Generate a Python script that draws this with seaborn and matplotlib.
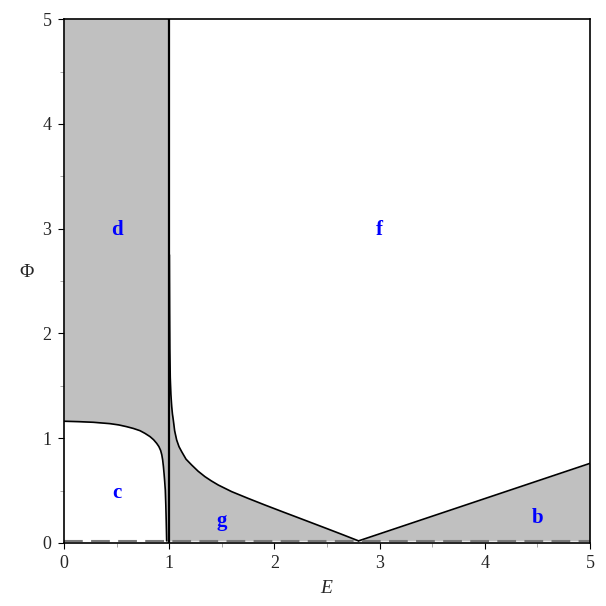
import numpy as np
import pandas as pd
import matplotlib
matplotlib.use("Agg")
import matplotlib.pyplot as plt
from matplotlib import font_manager
import seaborn as sns

# --- Courbes (E, Phi) ---
# frontière supérieure de la région c
c_E = [0.0, 0.14, 0.279, 0.437, 0.52, 0.596, 0.66, 0.722, 0.77, 0.818, 0.852, 0.881, 0.902, 0.919,
       0.930, 0.938, 0.945, 0.951, 0.957, 0.963, 0.968, 0.972, 0.976]
c_Phi = [1.162, 1.158, 1.152, 1.139, 1.127, 1.11, 1.093, 1.072, 1.046, 1.015, 0.985, 0.951, 0.92, 0.882,
         0.84, 0.792, 0.73, 0.665, 0.59, 0.506, 0.36, 0.2, 0.02]

# frontière supérieure de la région g
g_E = [1.002, 1.004, 1.006, 1.01, 1.016, 1.024, 1.031, 1.039, 1.052, 1.071, 1.093, 1.119, 1.16,
       1.214, 1.275, 1.340, 1.40, 1.467, 1.594, 1.752, 1.911, 2.085, 2.18, 2.34, 2.497, 2.65, 2.80]
g_Phi = [2.75, 2.2, 1.85, 1.58, 1.42, 1.30, 1.23, 1.174, 1.07, 0.983, 0.92, 0.871, 0.80,
         0.744, 0.685, 0.633, 0.593, 0.553, 0.490, 0.425, 0.362, 0.295, 0.259, 0.198, 0.138, 0.079, 0.02]

# frontière de la région b
b_E = [2.80, 5.0]
b_Phi = [0.02, 0.76]

phi_low = 0.02
phi_max = 5.0

labels = ["d", "f", "c", "g", "b"]
label_E = [0.5, 3.0, 0.5, 1.5, 4.5]
label_Phi = [2.99, 2.99, 0.48, 0.21, 0.24]

sns.set_theme(style="white")
installed = {f.name for f in font_manager.fontManager.ttflist}
serif = [f for f in ["Liberation Serif", "Times New Roman", "Nimbus Roman", "DejaVu Serif"]
         if f in installed]
plt.rcParams["font.family"] = serif + ["DejaVu Sans"]
plt.rcParams["mathtext.fontset"] = "custom"
plt.rcParams["mathtext.it"] = serif[0] + ":italic"
plt.rcParams["mathtext.rm"] = serif[0]

fig = plt.figure(figsize=(6.06, 6.06), dpi=100)
ax = fig.add_axes([0.1056, 0.104, 0.868, 0.8644])

grey = "#c0c0c0"
# région d : au-dessus de la courbe c jusqu'à E = 1
ax.fill_between(c_E + [1.0], c_Phi + [0.0], phi_max, color=grey, lw=0)
ax.fill_between([c_E[-1], 1.0], 0, phi_max, color=grey, lw=0)
# région g
ax.fill_between([1.0] + g_E, phi_low, [g_Phi[0]] + g_Phi, color=grey, lw=0)
# région b
ax.fill_between(b_E, phi_low, b_Phi, color=grey, lw=0)

curves = pd.concat([
    pd.DataFrame({"E": c_E, "Phi": c_Phi, "k": "c"}),
    pd.DataFrame({"E": g_E, "Phi": g_Phi, "k": "g"}),
    pd.DataFrame({"E": b_E, "Phi": b_Phi, "k": "b"}),
])
sns.lineplot(data=curves, x="E", y="Phi", units="k", estimator=None, sort=False,
             color="black", lw=1.2, ax=ax)
ax.plot([1.0, 1.0], [0, phi_max], color="black", lw=1.6)
ax.plot([0, 5], [phi_low, phi_low], color="#777777", lw=1.5, dashes=(9, 4))

for t, x, y in zip(labels, label_E, label_Phi):
    ax.text(x, y, t, color="blue", fontsize=15, fontweight="bold",
            ha="center", va="center")

ax.set_xlim(0, 5)
ax.set_ylim(0, 5)
ax.set_xticks(range(6))
ax.set_yticks(range(6))
ax.set_xticks(np.arange(0.5, 5, 1), minor=True)
ax.set_yticks(np.arange(0.5, 5, 1), minor=True)
ax.tick_params(which="both", direction="out", labelsize=13, bottom=True, left=True)
ax.tick_params(which="major", length=4, color="black", width=0.8, pad=5)
ax.tick_params(which="minor", length=3, color="#999999", width=0.6)
for s in ax.spines.values():
    s.set_color("black")
    s.set_linewidth(1.2)

ax.set_xlabel("$E$", fontsize=14)
ax.set_ylabel("Φ", fontsize=14, rotation=0)
ax.yaxis.set_label_coords(-0.072, 0.5)
ax.xaxis.set_label_coords(0.5, -0.07)

fig.savefig("out.png", dpi=100)
